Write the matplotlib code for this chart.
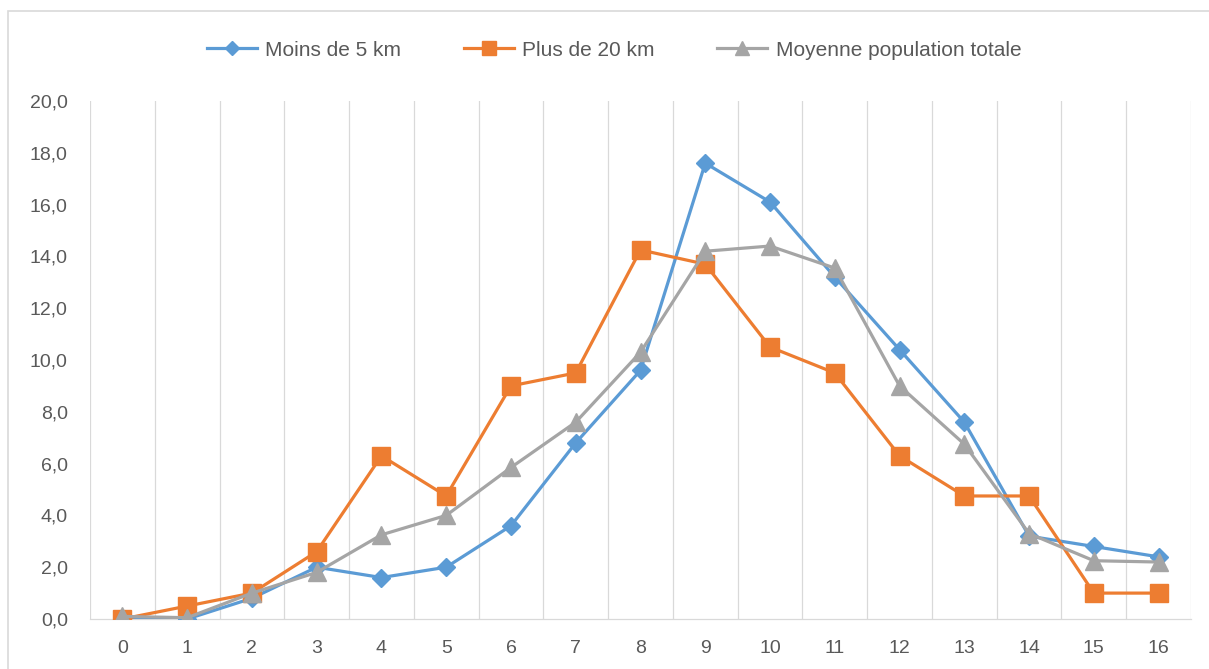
import matplotlib
matplotlib.use("Agg")
import matplotlib.pyplot as plt
from matplotlib.patches import Rectangle

categories = list(range(17))
moins_5km = [0.0, 0.0, 0.8, 2.0, 1.6, 2.0, 3.6, 6.8, 9.6, 17.6, 16.1, 13.2, 10.4, 7.6, 3.2, 2.8, 2.4]
plus_20km = [0.0, 0.5, 1.0, 2.6, 6.3, 4.75, 9.0, 9.5, 14.25, 13.7, 10.5, 9.5, 6.3, 4.75, 4.75, 1.0, 1.0]
moyenne = [0.1, 0.05, 1.0, 1.8, 3.25, 4.0, 5.85, 7.6, 10.3, 14.2, 14.4, 13.55, 9.0, 6.75, 3.3, 2.25, 2.2]
y_ticks = [0, 2, 4, 6, 8, 10, 12, 14, 16, 18, 20]
labels = ["Moins de 5 km", "Plus de 20 km", "Moyenne population totale"]

blue = "#5B9BD5"
orange = "#ED7D31"
gray = "#A5A5A5"
txt = "#595959"
grid = "#D9D9D9"
font = ["Liberation Sans", "DejaVu Sans"]

fig = plt.figure(figsize=(12.09, 6.69), dpi=100)
ax = fig.add_axes([90/1209, 1-619/669, (1191-90)/1209, (619-101)/669])

fig.patches.append(Rectangle((8/1209, -0.02), 1.05, 1-11/669+0.02, transform=fig.transFigure,
                             fill=False, edgecolor=grid, linewidth=1.2))

ax.plot(categories, moins_5km, color=blue, lw=2.3, marker="D", ms=9.5, label=labels[0], zorder=3)
ax.plot(categories, plus_20km, color=orange, lw=2.3, marker="s", ms=12.5, label=labels[1], zorder=4)
ax.plot(categories, moyenne, color=gray, lw=2.3, marker="^", ms=12.5, label=labels[2], zorder=5)

ax.set_xlim(-0.5, 16.5)
ax.set_ylim(0, 20)
ax.set_yticks(y_ticks)
ax.set_yticklabels([f"{v:.1f}".replace(".", ",") for v in y_ticks])
ax.set_xticks(categories)
ax.set_xticklabels([str(c) for c in categories])

for b in range(18):
    ax.axvline(b - 0.5, color=grid, lw=0.9, zorder=0)

for s in ["top", "right", "left"]:
    ax.spines[s].set_visible(False)
ax.spines["bottom"].set_color(grid)
ax.spines["bottom"].set_linewidth(0.9)
ax.tick_params(axis="both", length=0, colors=txt, labelsize=14)
ax.tick_params(axis="y", pad=16)
ax.tick_params(axis="x", pad=15)
for t in ax.get_xticklabels() + ax.get_yticklabels():
    t.set_fontfamily(font)

leg = fig.legend(loc="center", bbox_to_anchor=(0.508, 1-50/669), ncol=3, frameon=False,
                 prop={"family": font, "size": 15}, handlelength=2.4, columnspacing=3.0,
                 handletextpad=0.4, markerscale=0.75)
for t in leg.get_texts():
    t.set_color(txt)

fig.savefig("out.png", dpi=100)
